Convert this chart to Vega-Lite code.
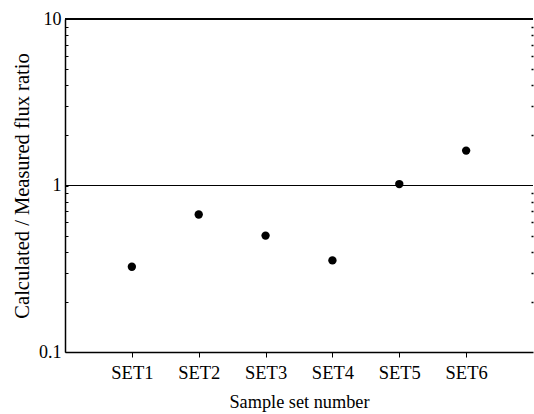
{
  "$schema": "https://vega.github.io/schema/vega-lite/v6.json",
  "width": 468,
  "height": 333,
  "autosize": "none",
  "padding": {"left": 65, "top": 19, "right": 1, "bottom": 62},
  "config": {
    "view": {"stroke": null},
    "font": "Liberation Serif",
    "axis": {
      "domainColor": "black",
      "tickColor": "black",
      "labelColor": "black",
      "titleColor": "black",
      "labelFont": "Liberation Serif",
      "titleFont": "Liberation Serif",
      "labelFontSize": 18.5,
      "titleFontSize": 18.3,
      "titleFontWeight": "normal",
      "grid": false
    }
  },
  "data": {
    "values": [
      {"set": "SET1", "ratio": 0.325},
      {"set": "SET2", "ratio": 0.67},
      {"set": "SET3", "ratio": 0.5},
      {"set": "SET4", "ratio": 0.355},
      {"set": "SET5", "ratio": 1.02},
      {"set": "SET6", "ratio": 1.62}
    ]
  },
  "layer": [
    {
      "mark": {"type": "point", "filled": true, "size": 70, "color": "black", "opacity": 1},
      "encoding": {
        "x": {
          "field": "set",
          "type": "ordinal",
          "scale": {"type": "point", "padding": 1},
          "axis": {
            "title": "Sample set number",
            "labelAngle": 0,
            "tickSize": 5,
            "domainWidth": 1.5,
            "labelPadding": 6,
            "titlePadding": 12
          }
        },
        "y": {
          "field": "ratio",
          "type": "quantitative",
          "scale": {"type": "log", "domain": [0.1, 10]},
          "axis": {
            "title": "Calculated / Measured flux ratio",
            "titleFontSize": 20.5,
            "values": [0.1, 0.2, 0.3, 0.4, 0.5, 0.6, 0.7, 0.8, 0.9, 1, 2, 3, 4, 5, 6, 7, 8, 9, 10],
            "labelExpr": "datum.value == 0.1 || datum.value == 1 || datum.value == 10 ? (datum.value == 0.1 ? '0.1' : format(datum.value, 'd')) : ''",
            "labelFontSize": 18,
            "tickSize": -3,
            "domainWidth": 1.5,
            "labelPadding": 7,
            "titlePadding": 6
          }
        }
      }
    },
    {
      "mark": {"type": "rule", "color": "black", "strokeWidth": 1.2},
      "encoding": {"y": {"datum": 1, "axis": null}}
    },
    {
      "mark": {"type": "rule", "color": "black", "strokeWidth": 1.2},
      "encoding": {"y": {"datum": 10, "axis": null}}
    },
    {
      "mark": {"type": "point", "opacity": 0},
      "encoding": {
        "y": {
          "field": "ratio",
          "type": "quantitative",
          "axis": {
            "orient": "right",
            "title": null,
            "labels": false,
            "domain": false,
            "values": [0.2, 0.3, 0.4, 0.5, 0.6, 0.7, 0.8, 0.9, 2, 3, 4, 5, 6, 7, 8, 9],
            "tickSize": -2,
            "tickWidth": 1.5
          }
        }
      }
    }
  ],
  "resolve": {"axis": {"y": "independent"}}
}
